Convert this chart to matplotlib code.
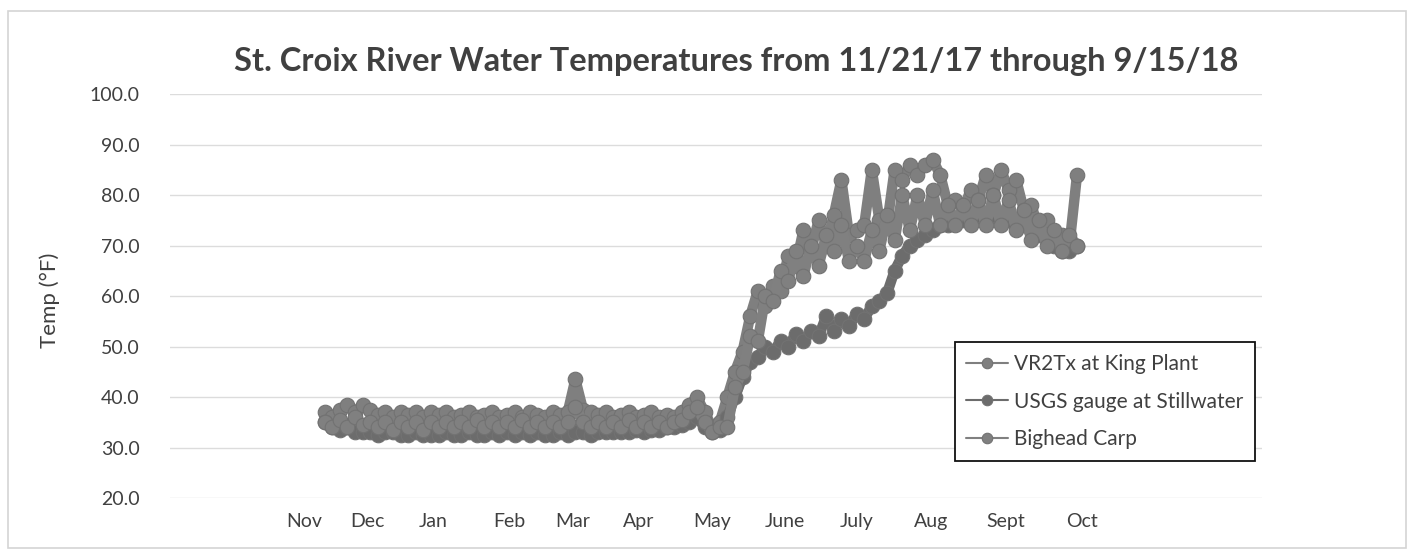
import matplotlib.pyplot as plt
from matplotlib.patches import Rectangle

plt.rcParams['font.family'] = ['Lato', 'DejaVu Sans']

# samples every 3 days starting 11/21/17 (day 0)
step_days = 3

vr2tx_king_plant = [37, 36, 37.5, 38.5, 37, 38.5, 37.5, 36.5, 37, 36,
                    37, 36.5, 37, 36, 37, 36.5, 37, 36, 36.5, 37,
                    36, 36.5, 37, 36, 36.5, 37, 36, 37, 36.5, 36,
                    37, 36.5, 37, 43.5, 37.5, 37, 36.5, 37, 36, 36.5,
                    37, 36, 36.5, 37, 36, 36.5, 36, 37, 38.5, 40,
                    37, 34, 35, 40, 45, 49, 56, 61, 58, 62,
                    61, 68, 66, 73, 69, 75, 70, 76, 83, 72,
                    73, 74, 85, 75, 74, 85, 83, 86, 84, 86,
                    87, 84, 78, 79, 77, 81, 79, 84, 80, 85,
                    81, 83, 77, 78, 73, 75, 71, 72, 70, 84]

usgs_stillwater = [35, 34, 33.5, 34, 33, 33, 33, 32.5, 33, 33,
                   32.5, 32.5, 33, 32.5, 32.5, 32.5, 33, 32.5, 32.5, 33,
                   32.5, 32.5, 33, 32.5, 33, 32.5, 33, 32.5, 33, 32.5,
                   32.5, 33, 32.5, 33, 33, 32.5, 33, 33, 33, 33,
                   33, 33.5, 33, 33.5, 33.5, 34, 34, 34.5, 35, 36,
                   34, 33, 33.5, 36, 40, 44, 47, 48, 50, 49,
                   51, 50, 52.5, 51, 53, 52, 56, 53, 55.5, 54,
                   56.5, 55.5, 58, 59, 60.5, 65, 68, 70, 71, 72,
                   73, 74, 74, 75, 75, 76, 76, 76, 76, 76,
                   75, 75, 74, 73, 72, 71, 70, 69, 69, 70]

bighead_carp = [35, 34, 35.5, 34, 36, 34.5, 35, 34, 35, 33.5,
                35, 34, 35, 33.5, 35, 34, 35, 34, 35, 34,
                35.5, 34, 35, 34, 35, 34, 35.5, 34, 35, 34,
                35, 34, 35, 38, 35, 34, 35, 34, 35, 34,
                35.5, 34, 35, 34, 35, 34, 35, 35.5, 37, 38,
                35, 33, 34, 34, 42, 45, 52, 51, 60, 59,
                65, 63, 69, 64, 70, 66, 72, 69, 74, 67,
                70, 67, 73, 69, 76, 71, 80, 73, 80, 74,
                81, 74, 78, 74, 78, 74, 79, 74, 80, 74,
                79, 73, 77, 71, 75, 70, 73, 69, 72, 70]

month_labels = ['Nov', 'Dec', 'Jan', 'Feb', 'Mar', 'Apr', 'May', 'June',
                'July', 'Aug', 'Sept', 'Oct']
# label positions in days after 11/21/17, as placed on the original axis
month_pos = [-8, 17, 43, 73, 98, 124, 153, 181.5, 210, 239.5, 269, 299]

days = [i * step_days for i in range(len(vr2tx_king_plant))]

fig = plt.figure(figsize=(14.14, 5.52), dpi=100)
fig.patches.append(Rectangle((0.006, 0.008), 0.988, 0.972, transform=fig.transFigure,
                             fill=False, edgecolor='#d4d4d4', linewidth=1.2))
ax = fig.add_axes([0.1202, 0.0978, 0.7723, 0.7319])

series = [
    (vr2tx_king_plant, 'VR2Tx at King Plant', '#7f7f7f'),
    (usgs_stillwater, 'USGS gauge at Stillwater', '#6c6c6c'),
    (bighead_carp, 'Bighead Carp', '#808080'),
]
for vals, name, col in series:
    ax.plot(days, vals, color=col, linewidth=7.5, marker='o', markersize=10.5,
            markerfacecolor=col, markeredgecolor='#727272', markeredgewidth=0.8,
            solid_joinstyle='round', solid_capstyle='round', label=name)

ax.set_ylim(20, 100)
ax.set_yticks(range(20, 101, 10))
ax.set_yticklabels([f'{v:.1f}' for v in range(20, 101, 10)])
ax.set_xlim(-61, 370)
ax.set_xticks(month_pos)
ax.set_xticklabels(month_labels)
ax.tick_params(axis='both', length=0, labelcolor='#404040')
ax.tick_params(axis='y', pad=22, labelsize=14)
ax.tick_params(axis='x', pad=11, labelsize=14)
ax.grid(axis='y', color='#dcdcdc', linewidth=1)
ax.set_axisbelow(True)
for s in ax.spines.values():
    s.set_visible(False)

fig.text(0.5205, 0.8877, 'St. Croix River Water Temperatures from 11/21/17 through 9/15/18',
         ha='center', va='center', fontsize=23.5, fontweight='bold', color='#404040')
fig.text(0.0354, 0.4565, 'Temp (°F)', rotation=90, ha='center', va='center',
         fontsize=16, color='#404040')

# legend handles drawn smaller than the plotted markers
leg = ax.legend(loc='upper right', bbox_to_anchor=(1.003, 0.411), fontsize=15,
                frameon=True, fancybox=False, framealpha=1, borderpad=0.55,
                labelspacing=0.85, handlelength=2.0, handletextpad=0.3,
                markerscale=0.72, labelcolor='#404040')
leg.get_frame().set_edgecolor('#111111')
leg.get_frame().set_linewidth(1.3)
for h in leg.get_lines():
    h.set_linewidth(1.5)

fig.savefig('out.png', dpi=100)
